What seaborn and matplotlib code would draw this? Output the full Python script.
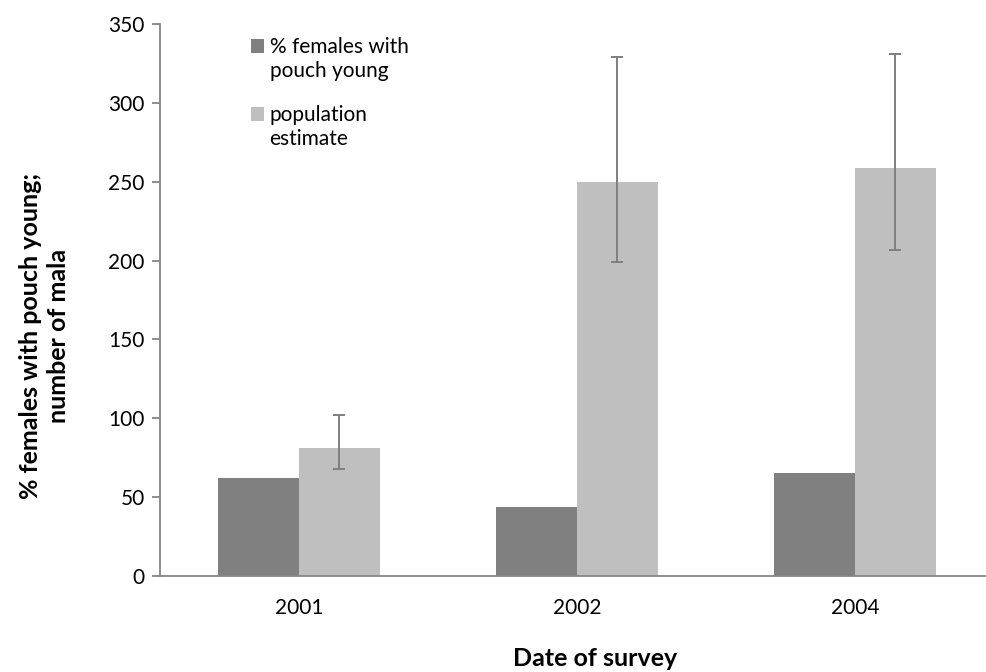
import matplotlib
matplotlib.use("Agg")
import matplotlib.pyplot as plt
import seaborn as sns
import pandas as pd
import numpy as np

years = ["2001", "2002", "2004"]
series = ["% females with\npouch young", "population\nestimate"]
females_pct = [62, 44, 65]
population = [81, 250, 259]
pop_low = [68, 199, 207]
pop_high = [102, 329, 331]
colors = ["#808080", "#bfbfbf"]

sns.set_theme(style="white")
plt.rcParams['font.family'] = ['Lato', 'DejaVu Sans']

df = pd.DataFrame({
    "year": years * 2,
    "series": [series[0]] * 3 + [series[1]] * 3,
    "value": females_pct + population,
})

W, H = 987, 672
fig = plt.figure(figsize=(W / 100, H / 100), dpi=100)
ax_l, ax_r, ax_t, ax_b = 160, 994, 24, 576
ax = fig.add_axes([ax_l / W, 1 - ax_b / H, (ax_r - ax_l) / W, (ax_b - ax_t) / H])
sns.barplot(data=df, x="year", y="value", hue="series", palette=colors,
            width=0.58, ax=ax, errorbar=None, saturation=1, linewidth=0)

# error bars on population bars
pop_patches = ax.patches[3:6]
xs = [p.get_x() + p.get_width() / 2 for p in pop_patches]
yerr = [np.array(population) - np.array(pop_low), np.array(pop_high) - np.array(population)]
ax.errorbar(xs, population, yerr=yerr, fmt="none", ecolor="#7f7f7f",
            elinewidth=1.4, capsize=4.6, capthick=1.4)

ax.set_xlim(-0.5, 2.5)
ax.set_ylim(0, 350)
ax.set_yticks(range(0, 351, 50))
ax.set_xticks([-0.5, 0.5, 1.5, 2.5], minor=True)
ax.tick_params(axis="x", which="major", length=0, labelsize=15, pad=16, labelcolor="black")
ax.tick_params(axis="x", which="minor", length=6, width=1.3, color="#868686", direction="out")
ax.tick_params(axis="y", length=6, width=1.3, color="#868686", direction="out",
               labelsize=15, left=True, pad=5, labelcolor="black")
for s in ["top", "right"]:
    ax.spines[s].set_visible(False)
for s in ["left", "bottom"]:
    ax.spines[s].set_color("#868686")
    ax.spines[s].set_linewidth(1.3)

ax.set_xlabel("Date of survey", fontsize=18, fontweight="bold", color="black")
ax.xaxis.set_label_coords((595 - ax_l) / (ax_r - ax_l), (ax_b - 647) / (ax_b - ax_t))
ax.set_ylabel("% females with pouch young;\nnumber of mala", fontsize=18,
              fontweight="bold", color="black", linespacing=1.25)
ax.yaxis.set_label_coords((70 - ax_l) / (ax_r - ax_l), (ax_b - 336) / (ax_b - ax_t))

leg = ax.legend(loc="upper left",
                bbox_to_anchor=((241 - ax_l) / (ax_r - ax_l), (ax_b - 27) / (ax_b - ax_t)),
                frameon=False, borderpad=0, fontsize=15, handlelength=0.62,
                handleheight=0.62, handletextpad=0.25, labelspacing=1.15)
for t in leg.get_texts():
    t.set_linespacing(1.25)
    t.set_color("black")
# align the square handle with the first line of each two-line label
for h in leg.legend_handles:
    h.set_y(h.get_y() + 10)

fig.savefig("out.png", dpi=100)
